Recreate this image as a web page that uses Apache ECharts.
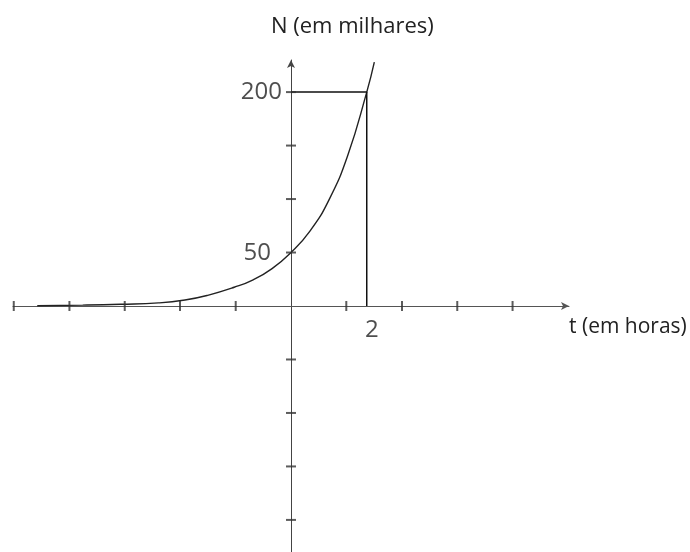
<!DOCTYPE html>
<html><head><meta charset="utf-8">
<script src="https://cdn.jsdelivr.net/npm/echarts@6/dist/echarts.min.js"></script>
<style>html,body{margin:0;padding:0;background:#fff}#c{width:690px;height:552px}</style>
</head><body><div id="c"></div>
<script>
// Curve readings: t (hours) and N (thousands)
const curveT = [-6.7, -5.5, -4.5, -3.5, -2.8, -2.2, -1.5, -1.0, -0.5, 0, 0.5, 1, 1.5, 2, 2.2];
const curveN = [0.3, 0.8, 1.6, 2.9, 5.6, 10, 17.5, 24.5, 35, 50, 70, 99, 141, 200, 228];
// Guide lines to the point (2, 200)
const guideT = [0, 2, 2];
const guideN = [200, 200, 0];
// Tick mark positions (no tick labels)
const xTickT = [-7.32, -5.85, -4.39, -2.93, -1.46, 1.46, 2.93, 4.39, 5.85];
const yTickN = [-200, -150, -100, -50, 50, 100, 150, 200];
// Value labels
const labelT = [0, 0, 2];
const labelN = [200, 50, 0];
const labelText = ['200', '50', '2'];
const xName = 't (em horas)';
const yName = 'N (em milhares)';

const FONT = '"Open Sans", Lato, sans-serif';
const chart = echarts.init(document.getElementById('c'));
const labelPos = [
  {position: 'left', distance: 9, offset: [0, 0]},
  {position: 'left', distance: 20, offset: [0, 1]},
  {position: 'bottom', distance: 12, offset: [5, 0]}
];
chart.setOption({
  animation: false,
  backgroundColor: '#fff',
  title: [
    {text: yName, left: 266, top: 11, textStyle: {fontFamily: FONT, fontSize: 22, fontWeight: 'normal', color: '#222'}},
    {text: xName, left: 564, top: 312, textStyle: {fontFamily: FONT, fontSize: 21, fontWeight: 'normal', color: '#222'}}
  ],
  grid: {left: 13, right: 121, top: 60, bottom: 0},
  xAxis: {
    type: 'value', min: -7.34, max: 7.34,
    axisLine: {show: true, onZero: true, symbol: ['none', 'arrow'], symbolSize: [6, 8], lineStyle: {color: '#555', width: 1}},
    axisTick: {show: false}, axisLabel: {show: false}, splitLine: {show: false}
  },
  yAxis: {
    type: 'value', min: -230, max: 230,
    axisLine: {show: true, onZero: true, symbol: ['none', 'arrow'], symbolSize: [6, 8], lineStyle: {color: '#444', width: 1}},
    axisTick: {show: false}, axisLabel: {show: false}, splitLine: {show: false}
  },
  series: [
    {
      type: 'line', data: curveT.map((t, i) => [t, curveN[i]]),
      smooth: 0.5, showSymbol: false, lineStyle: {color: '#222', width: 1.4}, z: 3
    },
    {
      type: 'line', data: guideT.map((t, i) => [t, guideN[i]]),
      showSymbol: false, lineStyle: {color: '#111', width: 1.5}, z: 3
    },
    {
      type: 'scatter', data: xTickT.map(t => [t, 0]),
      symbol: 'rect', symbolSize: [2, 10], itemStyle: {color: '#333'}, z: 4
    },
    {
      type: 'scatter', data: yTickN.map(n => [0, n]),
      symbol: 'rect', symbolSize: [10, 2], itemStyle: {color: '#333'}, z: 4
    },
    {
      type: 'scatter', symbolSize: 0, z: 5,
      data: labelT.map((t, i) => ({
        value: [t, labelN[i]],
        label: Object.assign({show: true, formatter: labelText[i], fontFamily: FONT, fontSize: 24, color: '#222'}, labelPos[i])
      }))
    }
  ]
});
</script>
</body></html>
